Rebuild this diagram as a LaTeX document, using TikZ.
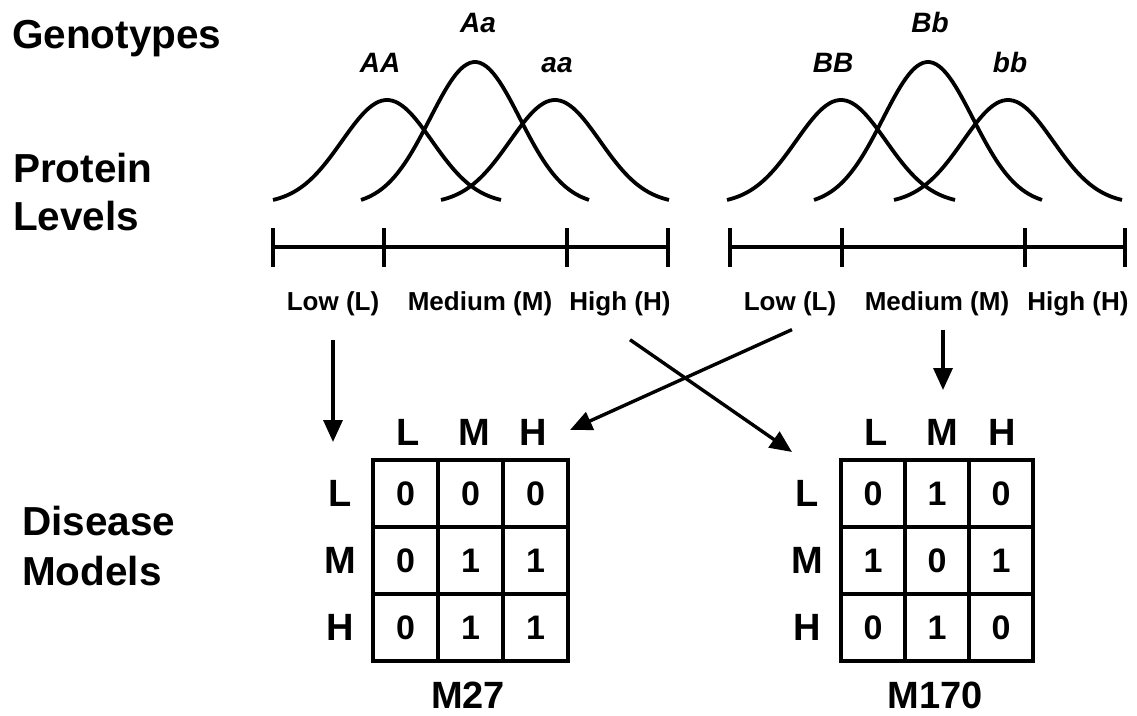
\documentclass[tikz,border=0pt]{standalone}
\usepackage{fontspec}
\setmainfont{Liberation Sans}
\usetikzlibrary{arrows.meta}
\newcommand\gausscurve[2]{%
  \draw[curve] plot[domain=-114:114,samples=70,smooth]
    ({#1+\x},{200-#2*(exp(-0.5*(\x/45)^2)-0.04)/0.96});}
\tikzset{
  mainlbl/.style={anchor=base west,inner sep=0pt,font=\fontsize{40.5}{44}\selectfont\bfseries},
  axlbl/.style={anchor=base,inner sep=0pt,font=\fontsize{26}{28}\selectfont\bfseries},
  geno/.style={anchor=base,inner sep=0pt,font=\fontsize{28}{30}\selectfont\bfseries\itshape},
  hdr/.style={anchor=center,inner sep=0pt,font=\fontsize{38}{40}\selectfont\bfseries},
  cell/.style={draw,line width=4pt,minimum width=#1,minimum height=67pt,inner sep=0pt,
    font=\fontsize{34}{36}\selectfont\bfseries},
  curve/.style={line width=3.8pt},
  axisline/.style={line width=4pt},
  arr/.style={line width=3.4pt,-{Triangle[length=22pt,width=19pt]}},
}
\begin{document}
\begin{tikzpicture}[x=1pt,y=-1pt]
\useasboundingbox (0,0) rectangle (1137,715);
\fill[white] (0,0) rectangle (1137,715);

% left titles
\node[mainlbl] (geno) at (12,48) {Genotypes};
\node[mainlbl] (prot) at (13,182) {Protein};
\node[mainlbl] (lev) at (13,230) {Levels};
\node[mainlbl] (dis) at (22,535) {Disease};
\node[mainlbl] (mod) at (22,585) {Models};

% curves left
\gausscurve{387}{100}
\gausscurve{475}{138}
\gausscurve{555}{100}
% curves right
\gausscurve{841}{100}
\gausscurve{928}{138}
\gausscurve{1008}{100}

% genotype labels
\node[geno] (AA) at (380,72) {AA};
\node[geno] (Aa) at (478,32) {Aa};
\node[geno] (aa) at (557,72) {aa};
\node[geno] (BB) at (833,72) {BB};
\node[geno] (Bb) at (930,32) {Bb};
\node[geno] (bb) at (1010,72) {bb};

% axes
\draw[axisline] (273,247) -- (668,247);
\foreach \t in {273,384,567,668} \draw[axisline] (\t,228) -- (\t,267);
\draw[axisline] (730,247) -- (1125,247);
\foreach \t in {730,842,1025,1125} \draw[axisline] (\t,228) -- (\t,267);

% axis labels
\node[axlbl] (low1) at (333,310) {Low (L)};
\node[axlbl] (med1) at (480,310) {Medium (M)};
\node[axlbl] (high1) at (620,310) {High (H)};
\node[axlbl] (low2) at (790,310) {Low (L)};
\node[axlbl] (med2) at (937,310) {Medium (M)};
\node[axlbl] (high2) at (1078,310) {High (H)};

% left matrix
\node[hdr] (lcL) at (408,432) {L};
\node[hdr] (lcM) at (474,432) {M};
\node[hdr] (lcH) at (533,432) {H};
\node[hdr] (lrL) at (340,493.5) {L};
\node[hdr] (lrM) at (340,560.5) {M};
\node[hdr] (lrH) at (340,627.5) {H};
\foreach \v [count=\i from 0] in {0,0,0,0,1,1,0,1,1} {
  \pgfmathtruncatemacro\rr{div(\i,3)}
  \pgfmathtruncatemacro\cc{mod(\i,3)}
  \node[cell=65pt] (A-\rr-\cc) at ({405.5+65*\cc},{493.5+67*\rr}) {\v};
}
\node[hdr] (m27) at (468,695) {M27};

% right matrix
\node[hdr] (rcL) at (876,432) {L};
\node[hdr] (rcM) at (942,432) {M};
\node[hdr] (rcH) at (1002,432) {H};
\node[hdr] (rrL) at (807,493.5) {L};
\node[hdr] (rrM) at (807,560.5) {M};
\node[hdr] (rrH) at (807,627.5) {H};
\foreach \v [count=\i from 0] in {0,1,0,1,0,1,0,1,0} {
  \pgfmathtruncatemacro\rr{div(\i,3)}
  \pgfmathtruncatemacro\cc{mod(\i,3)}
  \node[cell=64pt] (B-\rr-\cc) at ({873+64*\cc},{493.5+67*\rr}) {\v};
}
\node[hdr] (m170) at (935,695) {M170};

% arrows
\coordinate (tipA) at (333,442);
\coordinate (tipB) at (570,430);
\coordinate (tipC) at (792,452);
\coordinate (tipD) at (943,390);
\draw[arr] ([yshift=-24pt]low1.south) -- (tipA);
\draw[arr] ([xshift=2pt,yshift=-14pt]low2.south) -- (tipB);
\draw[arr] ([xshift=10pt,yshift=-24pt]high1.south) -- (tipC);
\draw[arr] ([xshift=6pt,yshift=-14pt]med2.south) -- (tipD);
\end{tikzpicture}
\end{document}
